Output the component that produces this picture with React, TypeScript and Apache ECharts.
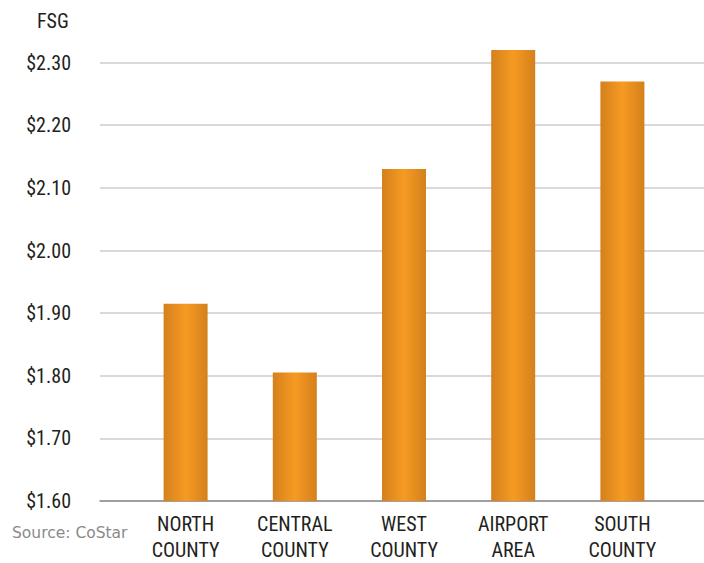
import React, { useEffect, useRef } from "react";
import * as echarts from "echarts";

const categories = ["NORTH\nCOUNTY", "CENTRAL\nCOUNTY", "WEST\nCOUNTY", "AIRPORT\nAREA", "SOUTH\nCOUNTY"];
const values = [1.915, 1.805, 2.13, 2.32, 2.27];
const yMin = 1.6;
const yMax = 2.3;
const yInterval = 0.1;
const yAxisTitle = "FSG";
const sourceNote = "Source: CoStar";

export default function App() {
  const ref = useRef<HTMLDivElement>(null);
  useEffect(() => {
    document.body.style.margin = "0";
    const chart = echarts.init(ref.current!, null, { renderer: "svg" });
    const condensed = "'Roboto Condensed', 'Liberation Sans Narrow', Roboto, sans-serif";
    const barColor = new echarts.graphic.LinearGradient(0, 0, 1, 0, [
      { offset: 0, color: "#D4801C" },
      { offset: 0.5, color: "#F69A22" },
      { offset: 1, color: "#D4801C" },
    ]);
    const plotBottom = 501;
    const pxPerStep = plotBottom / ((yMax + yInterval - yMin) / yInterval);
    const grid1Top = plotBottom - pxPerStep * ((yMax - yMin) / yInterval);
    chart.setOption({
      animation: false,
      backgroundColor: "#ffffff",
      grid: [
        { left: 100, right: 0, top: grid1Top, bottom: 563 - plotBottom },
        { left: 131, right: 27, top: 0, bottom: 563 - plotBottom },
      ],
      xAxis: [
        {
          type: "value",
          gridIndex: 0,
          min: 0,
          max: 1,
          axisLine: { show: true, onZero: false, lineStyle: { color: "#8c8c8c", width: 1.5 } },
          axisTick: { show: false },
          axisLabel: { show: false },
          splitLine: { show: false },
        },
        {
          type: "category",
          gridIndex: 1,
          data: categories,
          axisLine: { show: false },
          axisTick: { show: false },
          axisLabel: {
            margin: 10,
            color: "#231F20",
            fontFamily: condensed,
            fontSize: 20,
            lineHeight: 26,
            interval: 0,
          },
        },
      ],
      yAxis: [
        {
          type: "value",
          gridIndex: 0,
          min: yMin,
          max: yMax,
          interval: yInterval,
          axisLine: { show: false },
          axisTick: { show: false },
          axisLabel: {
            margin: 29,
            color: "#231F20",
            fontFamily: condensed,
            fontSize: 20,
            formatter: (v: number) => "$" + v.toFixed(2),
          },
          splitLine: { lineStyle: { color: "#D9D9D9", width: 2 } },
        },
        {
          type: "value",
          gridIndex: 1,
          min: yMin,
          max: yMax + yInterval,
          interval: yInterval,
          show: false,
          splitLine: { show: false },
        },
      ],
      series: [
        {
          type: "bar",
          xAxisIndex: 1,
          yAxisIndex: 1,
          data: values,
          barWidth: 44,
          itemStyle: { color: barColor },
        },
      ],
      graphic: [
        {
          type: "text",
          x: 37,
          y: 21,
          style: {
            text: yAxisTitle,
            fontFamily: condensed,
            fontSize: 20,
            fill: "#231F20",
            verticalAlign: "middle",
          },
        },
        {
          type: "text",
          x: 12,
          y: 533,
          style: {
            text: sourceNote,
            fontFamily: "'DejaVu Sans', sans-serif",
            fontSize: 15.5,
            fill: "#8a8a8a",
            verticalAlign: "middle",
          },
        },
      ],
    });
    return () => chart.dispose();
  }, []);
  return <div ref={ref} style={{ width: 704, height: 563, position: "fixed", left: 0, top: 0 }} />;
}
